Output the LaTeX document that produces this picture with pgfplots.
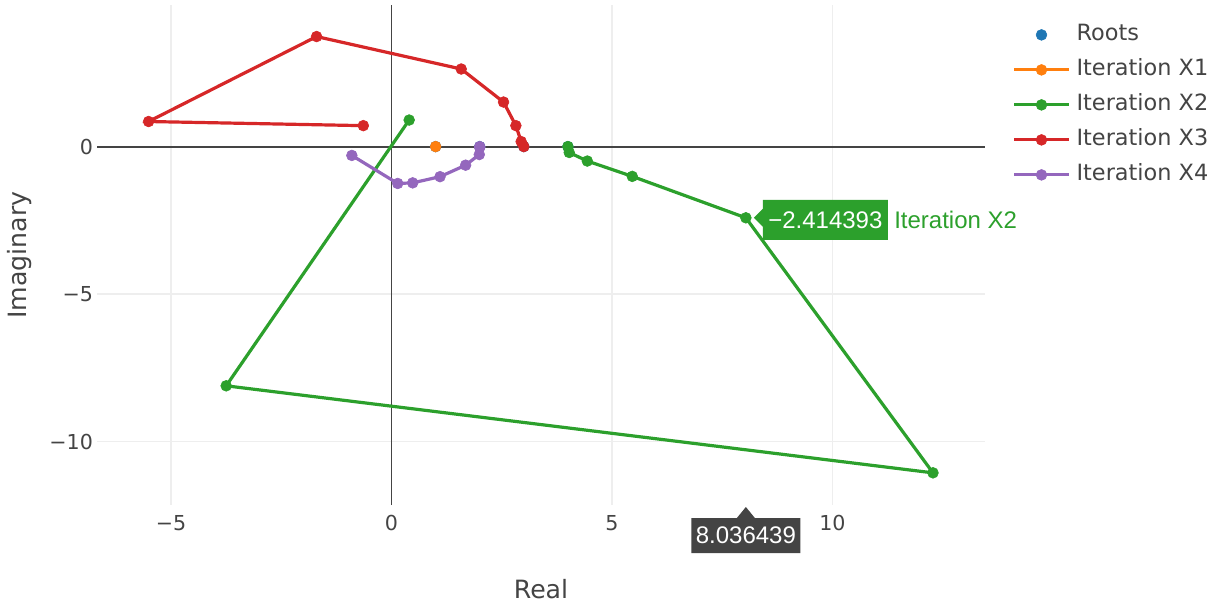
\documentclass[border=0pt]{standalone}
\usepackage{fontspec}
\setmainfont{DejaVu Sans}
\newfontfamily\hoverfont{Liberation Sans}
\usepackage{pgfplots}
\pgfplotsset{compat=1.18}

\definecolor{txt}{HTML}{444444}
\definecolor{gridc}{HTML}{EEEEEE}
\definecolor{cblue}{HTML}{1F77B4}
\definecolor{corange}{HTML}{FF7F0E}
\definecolor{cgreen}{HTML}{2CA02C}
\definecolor{cred}{HTML}{D62728}
\definecolor{cpurple}{HTML}{9467BD}

\begin{document}
\begin{tikzpicture}
\useasboundingbox (-48.5pt,-49.5pt) rectangle (558pt,252.5pt);
\begin{axis}[
  scale only axis, width=444pt, height=250pt,
  xmin=-6.68, xmax=13.46, ymin=-12.15, ymax=4.80,
  axis line style={draw=none},
  tick style={draw=none},
  xtick={-5,0,5,10}, xticklabels={−5,0,5,10},
  ytick={-10,-5,0}, yticklabels={−10,−5,0},
  xmajorgrids, ymajorgrids,
  grid style={gridc, line width=0.6pt},
  ticklabel style={font=\fontsize{10.3}{12}\selectfont, text=txt},
  xticklabel style={anchor=north, yshift=-1.5pt},
  yticklabel style={anchor=east, xshift=1.5pt},
  xlabel={Real}, ylabel={Imaginary},
  label style={font=\fontsize{12.6}{15}\selectfont, text=txt},
  xlabel style={at={(axis description cs:0.5,-0.168)}, anchor=center},
  ylabel style={at={(axis description cs:-0.0867,0.5)}, anchor=center},
  every axis plot/.append style={line width=1.6pt, mark=*, mark size=2.7pt,
    mark options={solid, line width=0.3pt}},
  legend cell align=left,
  legend image code/.code={\draw[mark repeat=2,mark phase=2,#1]
    plot coordinates {(0pt,0pt) (13.75pt,0pt) (27.5pt,0pt)};},
  legend style={at={(axis description cs:1.0304,0.962)}, anchor=north west,
    draw=none, fill=none, inner sep=0pt, row sep=7pt,
    font=\fontsize{11.2}{13}\selectfont, text=txt,
    nodes={inner sep=0pt, text height=8.3pt, text depth=2.2pt},
    /tikz/every odd column/.style={column sep=3pt}},
]
% zero lines
\draw[txt, line width=1pt] (axis cs:-6.68,0) -- (axis cs:13.46,0);
\draw[txt, line width=0.65pt] (axis cs:0,-12.15) -- (axis cs:0,4.80);

\addplot[only marks, cblue] coordinates {(1,0) (2,0) (3,0) (4,0)};
\addlegendentry{Roots}

\addplot[corange] coordinates {(1,0)};
\addlegendentry{Iteration X1}

\addplot[cgreen] coordinates {
  (0.40,0.90) (-3.75,-8.11) (12.28,-11.06) (8.036439,-2.414393)
  (5.46,-1.01) (4.44,-0.49) (4.03,-0.20) (4.0,0.0)};
\addlegendentry{Iteration X2}

\addplot[cred] coordinates {
  (-0.64,0.71) (-5.51,0.85) (-1.70,3.73) (1.58,2.63)
  (2.54,1.51) (2.82,0.71) (2.94,0.17) (3.0,0.0)};
\addlegendentry{Iteration X3}

\addplot[cpurple] coordinates {
  (-0.90,-0.30) (0.14,-1.25) (0.48,-1.23) (1.10,-1.02)
  (1.68,-0.63) (1.99,-0.27) (2.0,-0.03) (2.0,0.0)};
\addlegendentry{Iteration X4}

\coordinate (hp) at (axis cs:8.036439,-2.414393);
\coordinate (hb) at (axis cs:8.036439,-12.15);
\end{axis}

% hover label for the highlighted point
\fill[cgreen] ([xshift=4pt]hp) -- ([xshift=8.5pt,yshift=4.5pt]hp)
  -- ([xshift=8.5pt,yshift=9pt]hp) -- ([xshift=71pt,yshift=9pt]hp)
  -- ([xshift=71pt,yshift=-11pt]hp) -- ([xshift=8.5pt,yshift=-11pt]hp)
  -- ([xshift=8.5pt,yshift=-4.5pt]hp) -- cycle;
\node[font=\hoverfont\fontsize{12}{14}\selectfont, text=white, inner sep=0pt]
  at ([xshift=39.75pt,yshift=-1pt]hp) {−2.414393};
\node[font=\hoverfont\fontsize{12}{14}\selectfont, text=cgreen, inner sep=0pt, anchor=west]
  at ([xshift=74pt,yshift=-1pt]hp) {Iteration X2};

% x value label under the axis
\fill[txt] ([yshift=-1pt]hb) -- ([xshift=4.5pt,yshift=-6.5pt]hb)
  -- ([xshift=27.25pt,yshift=-6.5pt]hb) -- ([xshift=27.25pt,yshift=-24pt]hb)
  -- ([xshift=-27.25pt,yshift=-24pt]hb) -- ([xshift=-27.25pt,yshift=-6.5pt]hb)
  -- ([xshift=-4.5pt,yshift=-6.5pt]hb) -- cycle;
\node[font=\hoverfont\fontsize{12}{14}\selectfont, text=white, inner sep=0pt]
  at ([yshift=-15.25pt]hb) {8.036439};
\end{tikzpicture}
\end{document}
